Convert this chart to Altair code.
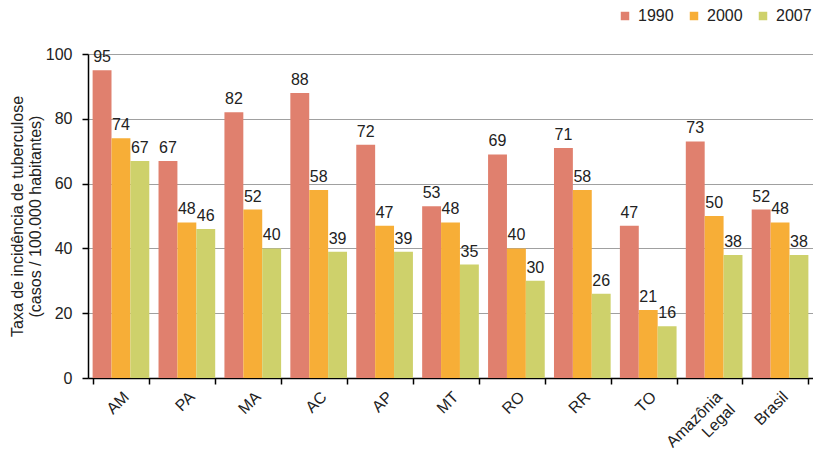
import altair as alt
import pandas as pd

categories = ["AM", "PA", "MA", "AC", "AP", "MT", "RO", "RR", "TO", "Amazônia Legal", "Brasil"]
v1990 = [95, 67, 82, 88, 72, 53, 69, 71, 47, 73, 52]
v2000 = [74, 48, 52, 58, 47, 48, 40, 58, 21, 50, 48]
v2007 = [67, 46, 40, 39, 39, 35, 30, 26, 16, 38, 38]
years = ["1990", "2000", "2007"]
colors = ["#E0806E", "#F7AE37", "#CED16B"]

rows = []
for i, c in enumerate(categories):
    for y, vals in zip(years, [v1990, v2000, v2007]):
        rows.append({"regiao": c, "ano": y, "taxa": vals[i]})
df = pd.DataFrame(rows)

FONT = "Liberation Sans"

x = alt.X(
    "regiao:N",
    sort=categories,
    scale=alt.Scale(paddingInner=0.14, paddingOuter=0.07),
    axis=alt.Axis(
        title=None,
        labelAngle=-45,
        labelAlign="right",
        labelBaseline="middle",
        labelFontSize=16,
        labelColor="#222222",
        labelPadding=10,
        labelOffset=5,
        labelLineHeight=18,
        tickBand="extent",
        domainColor="#000000",
        domainWidth=1.5,
        tickColor="#000000",
        tickWidth=1.5,
        tickSize=6,
        grid=False,
        labelExpr="datum.value == 'Amazônia Legal' ? ['Amazônia', 'Legal'] : datum.label",
    ),
)
xo = alt.XOffset("ano:N", sort=years)

y = alt.Y(
    "taxa:Q",
    scale=alt.Scale(domain=[0, 100]),
    axis=alt.Axis(
        values=[0, 20, 40, 60, 80, 100],
        title=["Taxa de incidência de tuberculose", "(casos / 100.000 habitantes)"],
        titleFontSize=16,
        titleFontWeight="normal",
        titleColor="#222222",
        titlePadding=2,
        titleLineHeight=18,
        labelFontSize=16,
        labelColor="#222222",
        labelPadding=10,
        gridColor="#a0a0a0",
        gridWidth=1,
        domainColor="#000000",
        domainWidth=1.5,
        tickColor="#000000",
        tickWidth=1.5,
        tickSize=6,
    ),
)

color = alt.Color(
    "ano:N",
    sort=years,
    scale=alt.Scale(domain=years, range=colors),
    legend=alt.Legend(
        orient="none",
        legendX=529,
        legendY=-46,
        direction="horizontal",
        title=None,
        symbolType="square",
        symbolSize=72,
        symbolStrokeWidth=0,
        labelFontSize=16,
        labelColor="#222222",
        labelOffset=5,
        columnPadding=12,
    ),
)

base = alt.Chart(df)
bars = base.mark_bar().encode(x=x, xOffset=xo, y=y, color=color)
labels = base.mark_text(baseline="alphabetic", dy=-8, fontSize=16, color="#222222").encode(
    x=x, xOffset=xo, y=y, text="taxa:Q"
)

chart = (
    alt.layer(bars, labels)
    .properties(
        width=725,
        height=324,
        autosize=alt.AutoSizeParams(type="none"),
        padding={"left": 80, "top": 46, "right": 0, "bottom": 74},
    )
    .configure(font=FONT)
    .configure_view(stroke=None)
)

chart.save("out.html", embed_options={"renderer": "svg", "actions": False})
